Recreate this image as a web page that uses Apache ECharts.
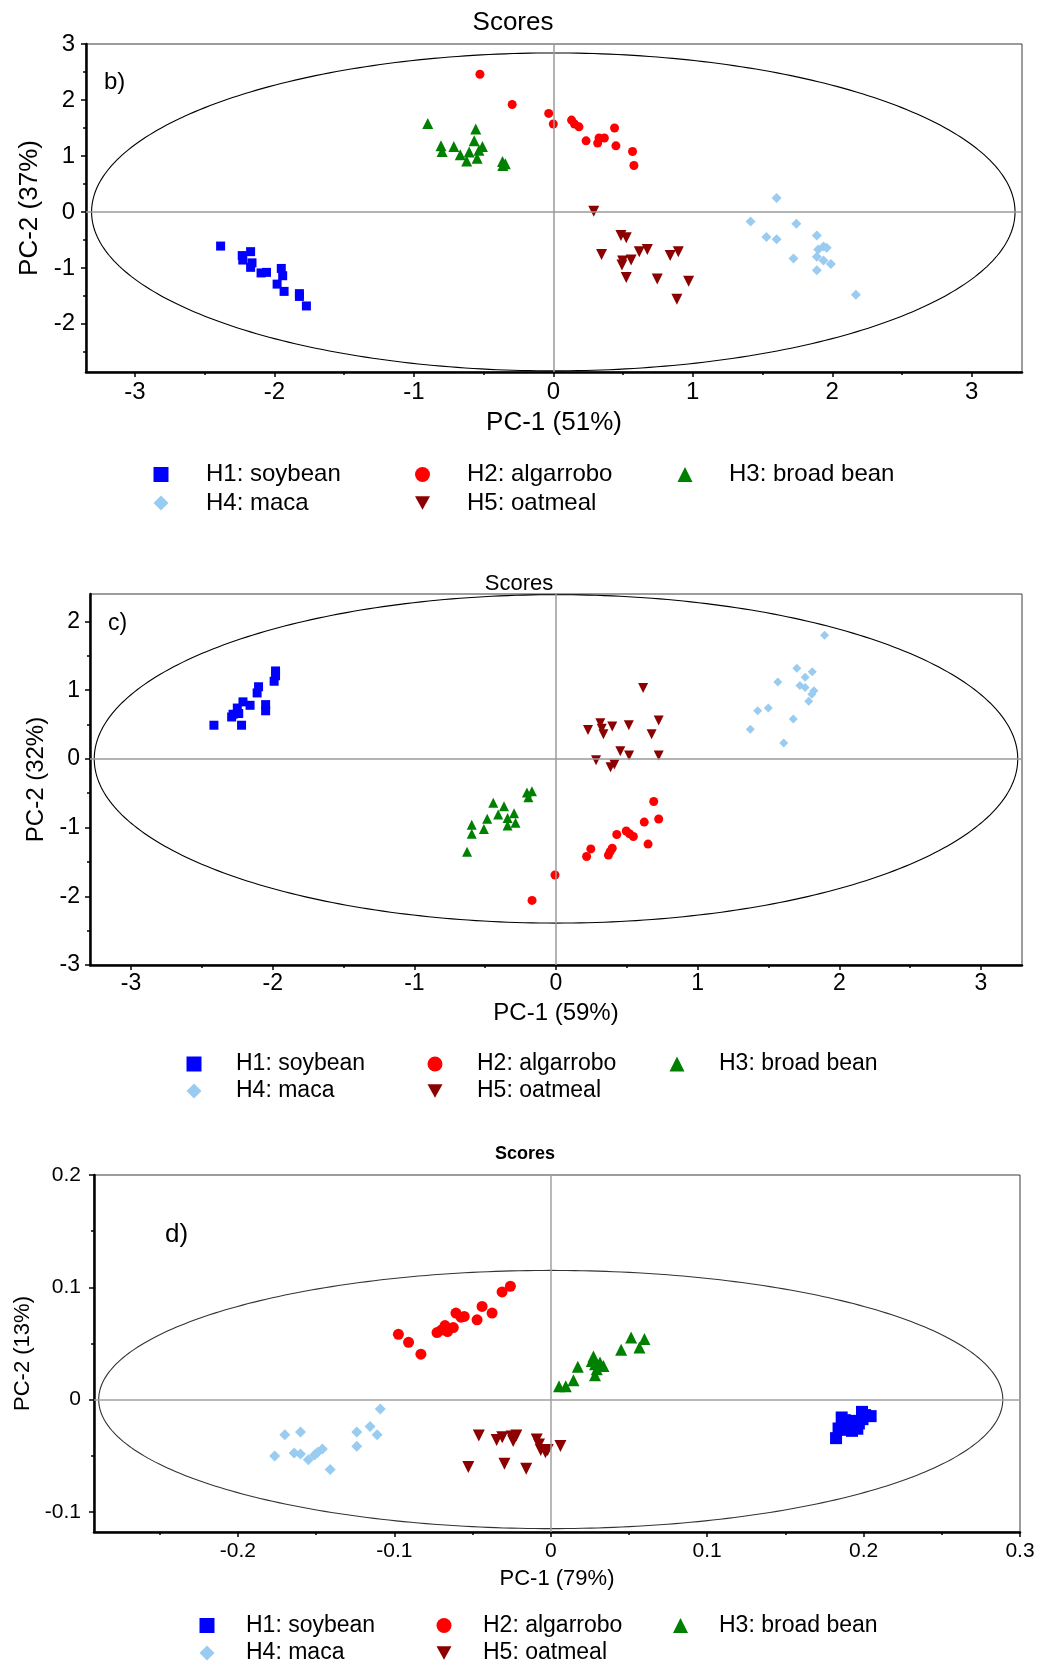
<!DOCTYPE html>
<html>
<head>
<meta charset="utf-8">
<script src="https://cdn.jsdelivr.net/npm/echarts@6/dist/echarts.min.js"></script>
<style>
  html, body { margin: 0; padding: 0; background: #fff; }
  #chart { width: 1052px; height: 1665px; }
</style>
</head>
<body>
<div id="chart"></div>
<script>
// Sample groups shared by all three score plots
const groupNames = ['H1: soybean', 'H2: algarrobo', 'H3: broad bean', 'H4: maca', 'H5: oatmeal'];

// ---- b) scores, PC-1 (51%) vs PC-2 (37%) ----
const bSoybean = [[-2.385,-0.61],[-2.23,-0.78],[-2.17,-0.71],[-2.226,-0.86],[-2.16,-0.91],[-2.17,-0.99],[-2.095,-1.09],[-2.056,-1.08],[-1.95,-1.01],[-1.94,-1.14],[-1.98,-1.29],[-1.93,-1.42],[-1.82,-1.46],[-1.82,-1.51],[-1.77,-1.68]];
const bAlgarrobo = [[-0.526,2.46],[-0.295,1.92],[-0.033,1.76],[0.0,1.57],[0.131,1.64],[0.152,1.57],[0.184,1.52],[0.235,1.27],[0.318,1.23],[0.328,1.32],[0.366,1.32],[0.439,1.50],[0.449,1.18],[0.568,1.08],[0.578,0.83]];
const bBroadBean = [[-0.90,1.58],[-0.556,1.48],[-0.805,1.18],[-0.797,1.08],[-0.713,1.17],[-0.567,1.27],[-0.508,1.17],[-0.533,1.10],[-0.667,1.02],[-0.603,1.07],[-0.621,0.91],[-0.546,0.96],[-0.364,0.90],[-0.344,0.86],[-0.362,0.83]];
const bMaca = [[1.601,0.25],[1.414,-0.17],[1.742,-0.21],[1.528,-0.45],[1.601,-0.49],[1.889,-0.42],[1.899,-0.67],[1.937,-0.62],[1.96,-0.64],[1.722,-0.83],[1.889,-0.80],[1.937,-0.87],[1.99,-0.93],[1.889,-1.04],[2.169,-1.48]];
const bOatmeal = [[0.29,0.01],[0.485,-0.42],[0.523,-0.46],[0.346,-0.76],[0.616,-0.71],[0.674,-0.67],[0.838,-0.78],[0.896,-0.71],[0.497,-0.875],[0.492,-0.95],[0.558,-0.86],[0.523,-1.17],[0.745,-1.20],[0.97,-1.24],[0.886,-1.56]];
const bXTicks = [-3, -2, -1, 0, 1, 2, 3];
const bXMinor = [-2.5, -1.5, -0.5, 0.5, 1.5, 2.5];
const bYTicks = [-2, -1, 0, 1, 2, 3];
const bYMinor = [-2.5, -1.5, -0.5, 0.5, 1.5, 2.5];
const bEllipse = [3.31, 2.84];   // semi-axes of the Hotelling T2 ellipse

// ---- c) scores, PC-1 (59%) vs PC-2 (32%) ----
const cSoybean = [[-2.415,0.49],[-2.29,0.61],[-2.28,0.65],[-2.25,0.74],[-2.24,0.66],[-2.22,0.49],[-2.21,0.83],[-2.16,0.78],[-2.11,0.96],[-2.10,1.05],[-2.05,0.79],[-2.05,0.70],[-1.99,1.13],[-1.98,1.28],[-1.98,1.21]];
const cAlgarrobo = [[-0.007,-1.69],[-0.169,-2.06],[0.216,-1.42],[0.246,-1.31],[0.37,-1.40],[0.382,-1.35],[0.397,-1.30],[0.429,-1.10],[0.496,-1.05],[0.519,-1.09],[0.546,-1.13],[0.623,-0.92],[0.65,-1.24],[0.69,-0.62],[0.725,-0.875]];
const cBroadBean = [[-0.628,-1.35],[-0.595,-1.09],[-0.595,-0.96],[-0.509,-1.02],[-0.486,-0.87],[-0.443,-0.64],[-0.408,-0.81],[-0.367,-0.69],[-0.342,-0.86],[-0.342,-0.97],[-0.296,-0.79],[-0.286,-0.93],[-0.205,-0.49],[-0.17,-0.47],[-0.195,-0.56]];
const cMaca = [[1.896,1.80],[1.70,1.32],[1.809,1.27],[1.759,1.19],[1.566,1.12],[1.722,1.07],[1.759,1.04],[1.821,0.99],[1.806,0.94],[1.784,0.84],[1.499,0.74],[1.424,0.70],[1.675,0.58],[1.372,0.43],[1.608,0.23]];
const cOatmeal = [[0.615,1.03],[0.226,0.42],[0.313,0.52],[0.323,0.44],[0.335,0.36],[0.397,0.47],[0.514,0.49],[0.675,0.36],[0.725,0.56],[0.454,0.11],[0.516,0.05],[0.725,0.05],[0.283,-0.02],[0.385,-0.12],[0.412,-0.08]];
const cXTicks = [-3, -2, -1, 0, 1, 2, 3];
const cXMinor = [-2.5, -1.5, -0.5, 0.5, 1.5, 2.5];
const cYTicks = [-3, -2, -1, 0, 1, 2];
const cYMinor = [-2.5, -1.5, -0.5, 0.5, 1.5];
const cEllipse = [3.26, 2.39];

// ---- d) scores, PC-1 (79%) vs PC-2 (13%) ----
const dSoybean = [[0.1824,-0.0344],[0.184,-0.0258],[0.186,-0.016],[0.188,-0.0184],[0.190,-0.0213],[0.1926,-0.0279],[0.194,-0.019],[0.197,-0.0213],[0.199,-0.011],[0.1993,-0.0175],[0.201,-0.0139],[0.2045,-0.0148],[0.191,-0.024],[0.196,-0.026],[0.188,-0.027]];
const dAlgarrobo = [[-0.0974,0.0581],[-0.0909,0.0510],[-0.0830,0.0404],[-0.0727,0.0596],[-0.0698,0.0620],[-0.0676,0.0659],[-0.0660,0.0605],[-0.0623,0.0641],[-0.0606,0.0770],[-0.0574,0.0734],[-0.0553,0.0740],[-0.0471,0.0710],[-0.0439,0.0829],[-0.0375,0.0770],[-0.0311,0.0958],[-0.0258,0.1009]];
const dBroadBean = [[0.0053,0.0119],[0.0096,0.0119],[0.0145,0.0171],[0.0173,0.0293],[0.0273,0.0383],[0.0262,0.0344],[0.0283,0.0314],[0.0294,0.0269],[0.0283,0.0216],[0.0315,0.0329],[0.0337,0.0299],[0.0450,0.0443],[0.0514,0.0553],[0.0567,0.0464],[0.0599,0.0539]];
const dMaca = [[-0.1765,-0.0503],[-0.170,-0.0314],[-0.164,-0.0476],[-0.160,-0.029],[-0.160,-0.0485],[-0.155,-0.0536],[-0.151,-0.0494],[-0.149,-0.047],[-0.146,-0.044],[-0.141,-0.0623],[-0.124,-0.029],[-0.124,-0.0416],[-0.1155,-0.024],[-0.111,-0.0314],[-0.109,-0.0084]];
const dOatmeal = [[-0.0527,-0.0602],[-0.0296,-0.0572],[-0.0157,-0.0617],[0.0062,-0.0413],[-0.046,-0.032],[-0.0346,-0.036],[-0.031,-0.0335],[-0.025,-0.033],[-0.024,-0.037],[-0.022,-0.032],[-0.009,-0.0356],[-0.0064,-0.0449],[-0.0034,-0.047],[-0.0075,-0.040],[-0.002,-0.045]];
const dXTicks = [-0.2, -0.1, 0, 0.1, 0.2, 0.3];
const dXMinor = [-0.25, -0.15, -0.05, 0.05, 0.15, 0.25];
const dYTicks = [-0.1, 0, 0.1, 0.2];
const dYMinor = [-0.05, 0.05, 0.15];
const dEllipse = [0.289, 0.115];

const FONT = "'Liberation Sans', Arial, Helvetica, sans-serif";
const groupColors = ['#0000ff', '#ff0000', '#008000', '#99ccf0', '#8b0000'];
const groupSymbols = ['rect', 'circle', 'triangle', 'diamond', 'triangle'];
const groupRotate = [0, 0, 0, 0, 180];
// legend icons; the oatmeal marker points downwards
const legendIcons = ['rect', 'circle', 'triangle', 'diamond', 'path://M0,0L10,0L5,9Z'];

// Layout and styling of each panel
const panels = [
  {
    tag: 'b)', groups: [bSoybean, bAlgarrobo, bBroadBean, bMaca, bOatmeal],
    xTicks: bXTicks, xMinor: bXMinor, yTicks: bYTicks, yMinor: bYMinor, ellipse: bEllipse,
    xName: 'PC-1 (51%)', yName: 'PC-2 (37%)',
    grid: { left: 86, top: 44, width: 936, height: 328 },
    xRange: [-3.35, 3.36], yRange: [-2.86, 3],
    tickFont: 24, nameFont: 26, xLabelMargin: 8, yLabelMargin: 11, xNameGap: 38, yNameGap: 43,
    title: { x: 513, top: 10, size: 26, weight: 'normal' },
    tagPos: { left: 104, top: 70, size: 24 },
    symbolSizes: [9, 9, 11, 10, 11], ellipseColor: '#000', zeroColor: '#9a9a9a',
    legend: { rows: [474.5, 503], icons: [161, 422.5, 685], texts: [206, 467, 729], font: 24, icon: 15 }
  },
  {
    tag: 'c)', groups: [cSoybean, cAlgarrobo, cBroadBean, cMaca, cOatmeal],
    xTicks: cXTicks, xMinor: cXMinor, yTicks: cYTicks, yMinor: cYMinor, ellipse: cEllipse,
    xName: 'PC-1 (59%)', yName: 'PC-2 (32%)',
    grid: { left: 90, top: 594, width: 932, height: 371 },
    xRange: [-3.29, 3.29], yRange: [-3, 2.4],
    tickFont: 23, nameFont: 24, xLabelMargin: 7, yLabelMargin: 10, xNameGap: 36, yNameGap: 41,
    title: { x: 519, top: 573, size: 22, weight: 'normal' },
    tagPos: { left: 108, top: 612, size: 23 },
    symbolSizes: [9, 9, 10, 9, 10], ellipseColor: '#000', zeroColor: '#9a9a9a',
    legend: { rows: [1064, 1091], icons: [194, 435, 677], texts: [236, 477, 719], font: 23, icon: 15 }
  },
  {
    tag: 'd)', groups: [dSoybean, dAlgarrobo, dBroadBean, dMaca, dOatmeal],
    xTicks: dXTicks, xMinor: dXMinor, yTicks: dYTicks, yMinor: dYMinor, ellipse: dEllipse,
    xName: 'PC-1 (79%)', yName: 'PC-2 (13%)',
    grid: { left: 94, top: 1175, width: 926, height: 357 },
    xRange: [-0.292, 0.3], yRange: [-0.118, 0.2],
    tickFont: 21, nameFont: 22, xLabelMargin: 9, yLabelMargin: 13, xNameGap: 36, yNameGap: 59,
    title: { x: 525, top: 1145, size: 18, weight: 'bold' },
    tagPos: { left: 165, top: 1222, size: 26 },
    symbolSizes: [12, 11, 12, 11, 12], ellipseColor: '#333', zeroColor: '#a0a0a0',
    legend: { rows: [1625.5, 1653], icons: [207, 444, 680.5], texts: [246, 483, 719], font: 23, icon: 15 }
  }
];

const grids = [], xAxes = [], yAxes = [], series = [], titles = [], legends = [];

function legendItem(name, icon, iconCx, cy, textX, fontSize, iconSize) {
  const lh = fontSize + 4;
  return {
    data: [{ name: name, icon: icon }],
    left: iconCx - iconSize / 2,
    top: cy - lh / 2,
    padding: 0,
    itemWidth: iconSize,
    itemHeight: iconSize,
    selectedMode: false,
    textStyle: {
      fontSize: fontSize, fontFamily: FONT, color: '#000', lineHeight: lh,
      padding: [0, 0, 0, textX - (iconCx + iconSize / 2) - 5]
    }
  };
}

panels.forEach(function (p, i) {
  grids.push(Object.assign({ show: true, borderColor: '#3a3a3a', borderWidth: 1, containLabel: false }, p.grid));

  const tickLine = { color: '#000', width: 1.5 };
  // main axes: line, labelled ticks, axis name
  xAxes.push({
    type: 'value', gridIndex: i, position: 'bottom', min: p.xRange[0], max: p.xRange[1],
    axisLine: { show: true, onZero: false, lineStyle: { color: '#000', width: 2.5 } },
    axisTick: { show: true, length: 5, customValues: p.xTicks, lineStyle: tickLine },
    axisLabel: { customValues: p.xTicks, fontSize: p.tickFont, fontFamily: FONT, color: '#000', margin: p.xLabelMargin },
    splitLine: { show: false },
    name: p.xName, nameLocation: 'middle', nameGap: p.xNameGap,
    nameTextStyle: { fontSize: p.nameFont, fontFamily: FONT, color: '#000' }
  });
  // half-step minor ticks on a second, unlabelled axis
  xAxes.push({
    type: 'value', gridIndex: i, position: 'bottom', offset: 0, min: p.xRange[0], max: p.xRange[1],
    axisLine: { show: false, onZero: false },
    axisTick: { show: true, length: 3, customValues: p.xMinor, lineStyle: tickLine },
    axisLabel: { show: false }, splitLine: { show: false }
  });
  yAxes.push({
    type: 'value', gridIndex: i, position: 'left', min: p.yRange[0], max: p.yRange[1],
    axisLine: { show: true, onZero: false, lineStyle: { color: '#000', width: 2.5 } },
    axisTick: { show: true, length: 5, customValues: p.yTicks, lineStyle: tickLine },
    axisLabel: { customValues: p.yTicks, fontSize: p.tickFont, fontFamily: FONT, color: '#000', margin: p.yLabelMargin },
    splitLine: { show: false },
    name: p.yName, nameLocation: 'middle', nameGap: p.yNameGap,
    nameTextStyle: { fontSize: p.nameFont, fontFamily: FONT, color: '#000' }
  });
  yAxes.push({
    type: 'value', gridIndex: i, position: 'left', offset: 0, min: p.yRange[0], max: p.yRange[1],
    axisLine: { show: false, onZero: false },
    axisTick: { show: true, length: 3, customValues: p.yMinor, lineStyle: tickLine },
    axisLabel: { show: false }, splitLine: { show: false }
  });

  // confidence ellipse centred on the origin, plus the zero reference lines
  const semi = p.ellipse;
  series.push({
    type: 'custom', coordinateSystem: 'cartesian2d', xAxisIndex: 2 * i, yAxisIndex: 2 * i,
    data: [[0, 0]], silent: true, z: 1,
    renderItem: function (params, api) {
      const pts = [];
      for (let k = 0; k <= 360; k++) {
        const t = 2 * Math.PI * k / 360;
        pts.push(api.coord([semi[0] * Math.cos(t), semi[1] * Math.sin(t)]));
      }
      return { type: 'polyline', shape: { points: pts }, style: { fill: 'none', stroke: p.ellipseColor, lineWidth: 1.1 } };
    },
    markLine: {
      silent: true, symbol: ['none', 'none'], label: { show: false },
      lineStyle: { color: p.zeroColor, width: 1.5, type: 'solid' },
      emphasis: { disabled: true },
      data: [{ xAxis: 0 }, { yAxis: 0 }]
    }
  });

  p.groups.forEach(function (pts, g) {
    series.push({
      type: 'scatter', name: groupNames[g], xAxisIndex: 2 * i, yAxisIndex: 2 * i,
      data: pts, symbol: groupSymbols[g], symbolRotate: groupRotate[g], symbolSize: p.symbolSizes[g],
      itemStyle: { color: groupColors[g], opacity: 1 }, z: 3,
      emphasis: { disabled: true }
    });
  });

  titles.push({
    text: 'Scores', left: p.title.x, top: p.title.top, textAlign: 'center', padding: 0,
    textStyle: { fontSize: p.title.size, fontWeight: p.title.weight, fontFamily: FONT, color: '#000' }
  });
  titles.push({
    text: p.tag, left: p.tagPos.left, top: p.tagPos.top, padding: 0,
    textStyle: { fontSize: p.tagPos.size, fontWeight: 'normal', fontFamily: FONT, color: '#000' }
  });

  const L = p.legend;
  const slots = [[0, 0], [1, 0], [2, 0], [0, 1], [1, 1]];
  groupNames.forEach(function (name, g) {
    const col = slots[g][0], row = slots[g][1];
    legends.push(legendItem(name, legendIcons[g], L.icons[col], L.rows[row], L.texts[col], L.font, L.icon));
  });
});

const chart = echarts.init(document.getElementById('chart'), null, { renderer: 'canvas' });
chart.setOption({
  animation: false,
  backgroundColor: '#fff',
  title: titles,
  legend: legends,
  grid: grids,
  xAxis: xAxes,
  yAxis: yAxes,
  series: series
});
</script>
</body>
</html>
